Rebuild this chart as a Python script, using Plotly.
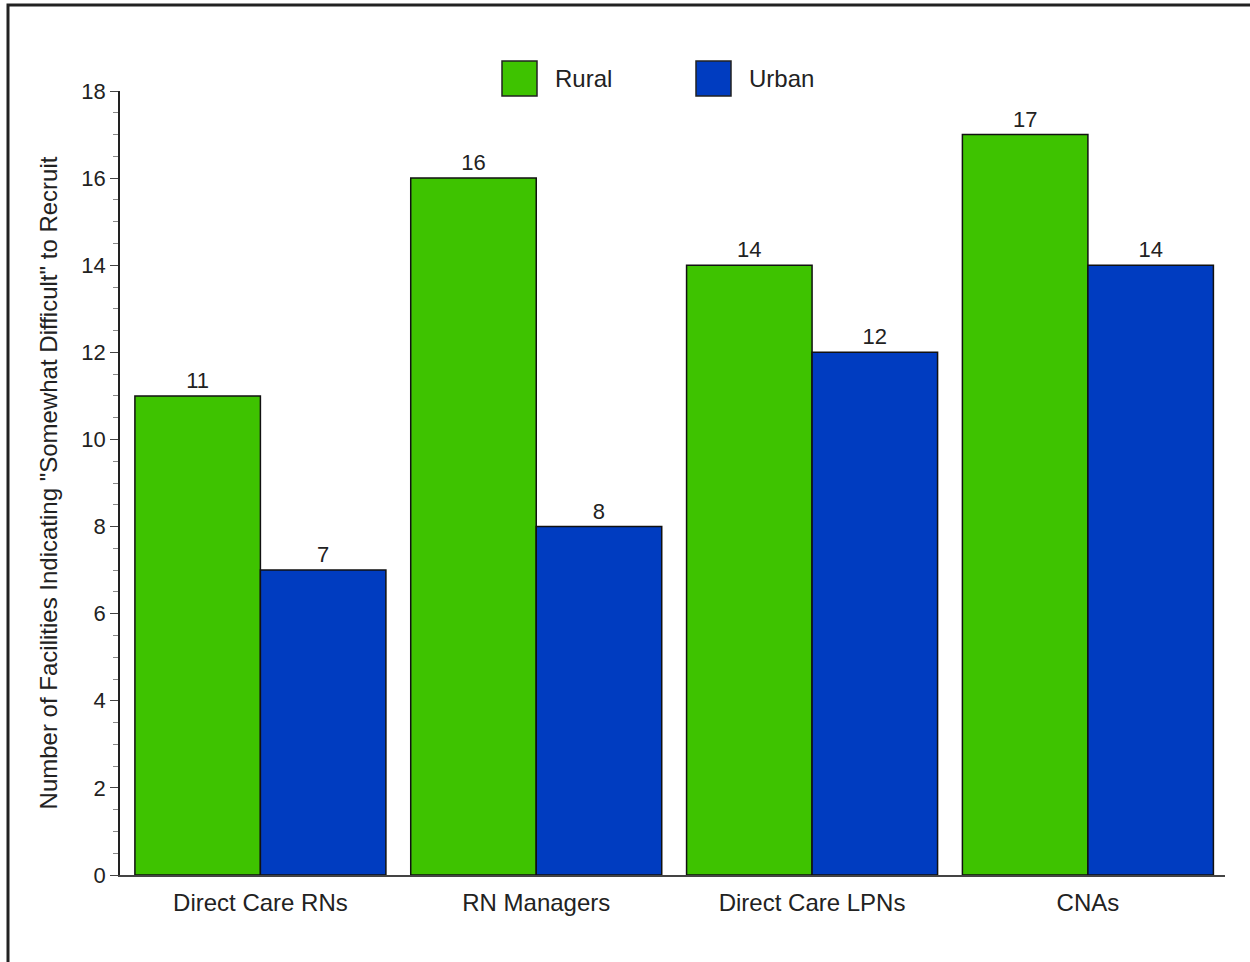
import plotly.graph_objects as go

categories = ["Direct Care RNs", "RN Managers", "Direct Care LPNs", "CNAs"]
rural = [11, 16, 14, 17]
urban = [7, 8, 12, 14]
series_names = ["Rural", "Urban"]
y_tick_vals = [0, 2, 4, 6, 8, 10, 12, 14, 16, 18]

GREEN = "#3EC300"
BLUE = "#003CC0"
FONT = "Arial, Liberation Sans, sans-serif"
TXT = "#222222"

fig = go.Figure()
for name, vals, col in [(series_names[0], rural, GREEN), (series_names[1], urban, BLUE)]:
    fig.add_trace(go.Bar(
        x=categories, y=vals, name=name,
        marker=dict(color=col, line=dict(color="#111111", width=1.5)),
        text=[str(v) for v in vals], textposition="outside",
        textfont=dict(size=22, color=TXT, family=FONT),
        cliponaxis=False, showlegend=False,
    ))

L, R, T, B = 120, 25, 91, 87
W, H = 1250, 962
pw, ph = W - L - R, H - T - B

def px_x(p):
    return (p - L) / pw

def px_y(p):
    return (H - B - p) / ph

shapes = []
# outer frame (top and left edges only)
shapes.append(dict(type="path", xref="paper", yref="paper",
                   path=f"M {px_x(8)} {px_y(970)} L {px_x(8)} {px_y(5)} L {px_x(1260)} {px_y(5)}",
                   line=dict(color="#222222", width=3)))
# legend swatches
annotations = []
for name, col, x0, tx in [(series_names[0], GREEN, 502, 553), (series_names[1], BLUE, 696, 747)]:
    shapes.append(dict(type="rect", xref="paper", yref="paper",
                       x0=px_x(x0), x1=px_x(x0 + 35), y0=px_y(96), y1=px_y(61),
                       fillcolor=col, line=dict(color="#222222", width=1.5)))
    annotations.append(dict(xref="paper", yref="paper", x=px_x(tx), y=px_y(78),
                            text=name, showarrow=False, xanchor="left", yanchor="middle",
                            font=dict(size=24, color=TXT, family=FONT)))

fig.update_layout(
    width=W, height=H,
    margin=dict(l=L, r=R, t=T, b=B, pad=0),
    paper_bgcolor="white", plot_bgcolor="white",
    barmode="group", bargap=0.09, bargroupgap=0,
    font=dict(family=FONT, color=TXT),
    shapes=shapes, annotations=annotations,
    xaxis=dict(range=[-0.509, 3.497], showline=True, linecolor="#444444", linewidth=1.5, ticks="",
               tickfont=dict(size=24, color=TXT), showgrid=False, ticklabelstandoff=5),
    yaxis=dict(range=[0, 18], tickvals=y_tick_vals, showline=True, linecolor="#222222",
               linewidth=1.5, ticks="outside", ticklen=8, tickwidth=1.2, tickcolor="#444444",
               minor=dict(dtick=0.5, ticks="outside", ticklen=5, tickcolor="#888888", tickwidth=1),
               tickfont=dict(size=22, color=TXT), showgrid=False, zeroline=False,
               title=dict(text='Number of Facilities Indicating "Somewhat Difficult" to Recruit',
                          font=dict(size=24, color=TXT), standoff=17)),
)

fig.write_html("out.html", config={"displayModeBar": False},
               post_script="document.body.style.margin='0';")
